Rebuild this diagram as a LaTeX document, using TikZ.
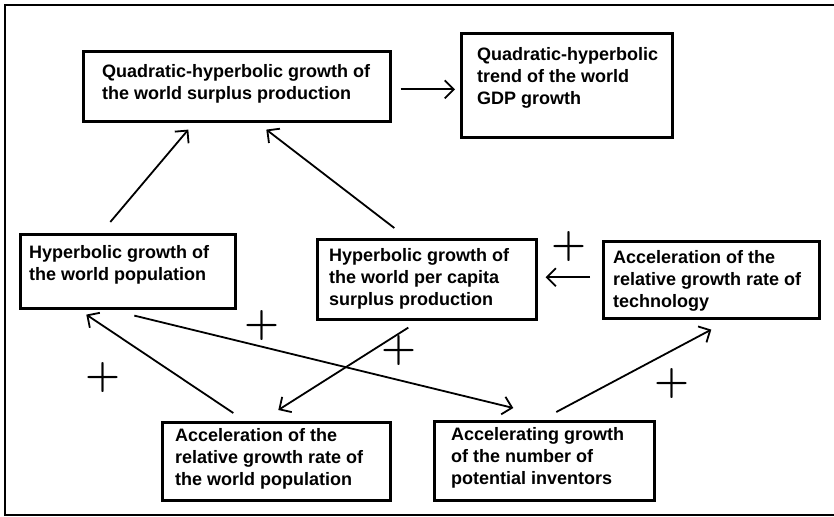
\documentclass[tikz,border=0pt]{standalone}
\usepackage{fontspec}
\setmainfont{Liberation Sans}
\newfontfamily\plusfont{Latin Modern Roman}
\usetikzlibrary{arrows.meta}

\begin{document}
\begin{tikzpicture}[x=1pt,y=-1pt,
	box/.style={draw, line width=2.6pt, anchor=north west, inner sep=0pt},
	txt/.style={anchor=north west, align=left, inner sep=0pt, font={\fontsize{18pt}{22pt}\selectfont\bfseries}},
	arr/.style={line width=1.8pt, -{Straight Barb[length=9pt,width=18pt]}},
	sign/.style={inner sep=0pt, font={\plusfont\bfseries\fontsize{40pt}{40pt}\selectfont}}]
	\useasboundingbox (0,0) rectangle (834,516);
	\draw[line width=1.5pt] (834,5) -- (5,5) -- (5,515) -- (834,515);

	\node[box, minimum width=307pt, minimum height=70pt,
		label={[txt, xshift=20pt, yshift=-14pt]north west:{Quadratic-hyperbolic growth of\\the world surplus production}}] (surplus) at (82,50) {};
	\node[box, minimum width=211pt, minimum height=104pt,
		label={[txt, xshift=17pt, yshift=-15pt]north west:{Quadratic-hyperbolic\\trend of the world\\GDP growth}}] (trend) at (460,32) {};
	\node[box, minimum width=215pt, minimum height=74pt,
		label={[txt, xshift=10pt, yshift=-12pt]north west:{Hyperbolic growth of\\the world population}}] (pop) at (19,233) {};
	\node[box, minimum width=219pt, minimum height=80pt,
		label={[txt, xshift=13pt, yshift=-10pt]north west:{Hyperbolic growth of\\the world per capita\\surplus production}}] (percap) at (316,238) {};
	\node[box, minimum width=216pt, minimum height=77pt,
		label={[txt, xshift=11pt, yshift=-10pt]north west:{Acceleration of the\\relative growth rate of\\technology}}] (tech) at (602,240) {};
	\node[box, minimum width=228pt, minimum height=78pt,
		label={[txt, xshift=14pt, yshift=-7pt]north west:{Acceleration of the\\relative growth rate of\\the world population}}] (poprate) at (161,421) {};
	\node[box, minimum width=220pt, minimum height=79pt,
		label={[txt, xshift=18pt, yshift=-7pt]north west:{Accelerating growth\\of the number of\\potential inventors}}] (inventors) at (433,420) {};

	\draw[arr] ([xshift=9pt,yshift=-3pt]surplus.east) -- ([xshift=-5pt,yshift=-4pt]trend.west);
	\draw[arr] ([xshift=-17.5pt,yshift=11pt]pop.north) -- ([xshift=-48.5pt,yshift=-7pt]surplus.south);
	\draw[arr] ([xshift=-32.5pt,yshift=10pt]percap.north) -- ([xshift=29.5pt,yshift=-7pt]surplus.south);
	\draw[arr] ([xshift=-12pt,yshift=2.5pt]tech.west) -- ([xshift=8pt,yshift=2pt]percap.east);
	\draw[arr] ([xshift=-18.5pt,yshift=-7pt]percap.south) -- ([xshift=2pt,yshift=11pt]poprate.north);
	\draw[arr] ([xshift=-43pt,yshift=8pt]poprate.north) -- ([xshift=-41.5pt,yshift=-5pt]pop.south);
	\draw[arr] ([xshift=6.5pt,yshift=-6pt]pop.south) -- ([xshift=-31pt,yshift=12pt]inventors.north);
	\draw[arr] ([xshift=12pt,yshift=8pt]inventors.north) -- ([yshift=-10pt]tech.south);

	\node[sign] (plus1) at (103,378) {+};
	\node[sign] (plus2) at (262,326) {+};
	\node[sign] (plus3) at (399,351) {+};
	\node[sign] (plus4) at (569,247) {+};
	\node[sign] (plus5) at (672,384) {+};
\end{tikzpicture}
\end{document}
